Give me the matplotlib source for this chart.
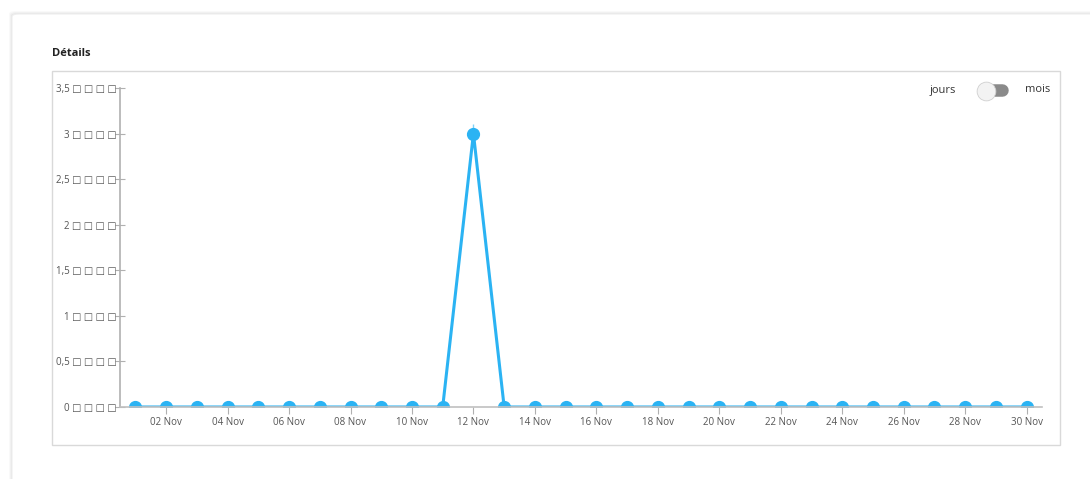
import matplotlib
matplotlib.use("Agg")
import matplotlib.pyplot as plt
from matplotlib.patches import FancyBboxPatch, Rectangle
from matplotlib.lines import Line2D

plt.rcParams['font.family'] = ['Open Sans', 'DejaVu Sans']

days = list(range(1, 31))
values = [0]*11 + [3] + [0]*18
tick_days = list(range(2, 31, 2))
tick_labels = [f"{d:02d} Nov" for d in tick_days]
y_ticks = [0, 0.5, 1, 1.5, 2, 2.5, 3, 3.5]
y_labels = ["0 □ □ □ □", "0,5 □ □ □ □", "1 □ □ □ □", "1,5 □ □ □ □",
            "2 □ □ □ □", "2,5 □ □ □ □", "3 □ □ □ □", "3,5 □ □ □ □"]

W, H = 1090, 479
fig = plt.figure(figsize=(W/100, H/100), dpi=100)
fig.patch.set_facecolor('white')

def fx(x): return x / W
def fy(y): return 1 - y / H

# card shadow and card
for i, a in enumerate([0.025, 0.03, 0.04]):
    o = 3 - i
    fig.patches.append(FancyBboxPatch((fx(12 - o), fy(479 + 10)), fx(1090), fy(14 - o) - fy(489),
                                      boxstyle="round,pad=0,rounding_size=0.006",
                                      transform=fig.transFigure, facecolor='black', alpha=a,
                                      edgecolor='none', zorder=0))
fig.patches.append(FancyBboxPatch((fx(12), fy(489)), fx(1090), fy(14) - fy(489),
                                  boxstyle="round,pad=0,rounding_size=0.006",
                                  transform=fig.transFigure, facecolor='white',
                                  edgecolor='#eeeeee', lw=0.8, zorder=1))
# chart box
fig.patches.append(Rectangle((fx(52), fy(445)), fx(1060) - fx(52), fy(71) - fy(445),
                             transform=fig.transFigure, facecolor='white',
                             edgecolor='#d9d9d9', lw=1, zorder=2))

fig.text(fx(52), fy(54), "Détails", fontsize=8, fontweight='bold', color='#222222',
         va='center', ha='left', zorder=3)

# toggle
fig.text(fx(956), fy(90), "jours", fontsize=8, color='#333333', ha='right', va='center', zorder=3)
fig.text(fx(1025), fy(90), "mois", fontsize=8, color='#333333', ha='left', va='center', zorder=3)
fig.add_artist(Line2D([fx(990), fx(1002)], [fy(90), fy(90)], transform=fig.transFigure,
                      color='#8a8a8a', lw=9, solid_capstyle='round', zorder=3))
fig.add_artist(Line2D([fx(986)], [fy(90.5)], transform=fig.transFigure, marker='o',
                      markersize=13.5, markerfacecolor='#f3f3f3', markeredgecolor='#d0d0d0',
                      markeredgewidth=0.6, linestyle='none', zorder=4))

ax = fig.add_axes([fx(120), fy(407), fx(1042) - fx(120), fy(88) - fy(407)], zorder=5)
ax.patch.set_alpha(0)
color = '#2BB3F3'
ax.plot(days, values, color=color, lw=2.2, marker='o', markersize=8.5,
        markeredgecolor=color, clip_on=True, zorder=2)
peak = max(values)
peak_day = days[values.index(peak)]
ax.vlines([peak_day], peak, peak + 0.1, color=color, lw=1, alpha=0.6)

ax.set_xlim(0.5, 30.5)
ax.set_ylim(0, 3.5)
ax.set_xticks(tick_days)
ax.set_xticklabels(tick_labels)
ax.set_yticks(y_ticks)
ax.set_yticklabels(y_labels)
for s in ['top', 'right']:
    ax.spines[s].set_visible(False)
ax.spines['left'].set_color('#b0b0b0')
ax.spines['bottom'].set_color('#c0c0c0')
ax.spines['left'].set_linewidth(1.2)
ax.spines['bottom'].set_linewidth(1.2)
ax.tick_params(axis='x', direction='out', length=5, width=0.8, color='#b0b0b0',
               labelsize=7, labelcolor='#555555', pad=2)
ax.tick_params(axis='y', direction='inout', length=7, width=0.8, color='#b0b0b0',
               labelsize=7, labelcolor='#555555', pad=-1)

fig.savefig("out.png", dpi=100)
